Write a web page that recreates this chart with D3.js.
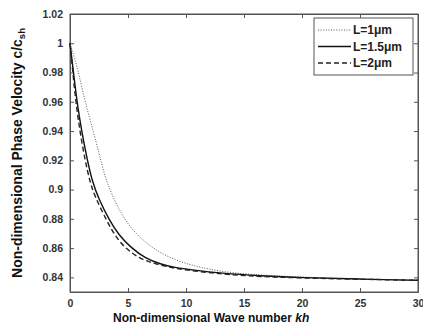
<!DOCTYPE html>
<html>
<head>
<meta charset="utf-8">
<script src="https://cdn.jsdelivr.net/npm/d3@7"></script>
<style>
  body { margin: 0; background: #fff; }
  text { font-family: Arial, "Liberation Sans", sans-serif; }
</style>
</head>
<body>
<div id="chart"></div>
<script>
// series: wave number kh and phase velocity c/c_sh
var khL1 = [0, 0.4, 0.8, 1.3, 2.0, 2.5, 2.9, 3.5, 4.7, 6.0, 7.5, 9.0, 10.6, 12.0, 14.0, 16.0, 18.0, 22.0, 26.0, 30.0];
var cL1 = [1.0, 0.99, 0.978, 0.96, 0.94, 0.925, 0.912, 0.898, 0.879, 0.867, 0.858, 0.852, 0.848, 0.8455, 0.843, 0.8418, 0.841, 0.8395, 0.8387, 0.838];

var khL15 = [0, 0.3, 0.6, 1.0, 1.5, 1.9, 2.5, 3.4, 4.2, 5.3, 6.5, 7.8, 9.0, 10.6, 13.0, 16.4, 20.0, 25.0, 30.0];
var cL15 = [1.0, 0.98, 0.96, 0.94, 0.92, 0.906, 0.893, 0.879, 0.869, 0.86, 0.853, 0.849, 0.8468, 0.845, 0.8428, 0.841, 0.8398, 0.8388, 0.838];

var khL2 = [0, 0.25, 0.5, 0.85, 1.3, 1.7, 2.1, 3.2, 4.0, 4.9, 6.0, 7.0, 8.5, 10.0, 12.5, 15.0, 20.0, 25.0, 30.0];
var cL2 = [1.0, 0.98, 0.96, 0.94, 0.92, 0.906, 0.896, 0.878, 0.867, 0.859, 0.853, 0.85, 0.847, 0.845, 0.8428, 0.841, 0.8395, 0.8387, 0.838];

var seriesNames = ["L=1\u03bcm", "L=1.5\u03bcm", "L=2\u03bcm"];
var xTicks = [0, 5, 10, 15, 20, 25, 30];
var yTicks = [0.84, 0.86, 0.88, 0.9, 0.92, 0.94, 0.96, 0.98, 1, 1.02];

var series = [
    {name: seriesNames[0], kh: khL1, c: cL1, dash: "1,1.6", width: 0.9, color: "#444"},
    {name: seriesNames[1], kh: khL15, c: cL15, dash: null, width: 1.4, color: "#111"},
    {name: seriesNames[2], kh: khL2, c: cL2, dash: "5,3", width: 1.4, color: "#222"}
];

var totalW = 423, totalH = 325;
var margin = {top: 14, right: 5, bottom: 33, left: 70},
    width = totalW - margin.left - margin.right,
    height = totalH - margin.top - margin.bottom;

var svgRoot = d3.select("#chart")
    .append("svg")
    .attr("width", totalW)
    .attr("height", totalH);

var svg = svgRoot.append("g")
    .attr("transform", "translate(" + margin.left + "," + margin.top + ")");

var x = d3.scaleLinear().domain([0, 30]).range([0, width]);
var y = d3.scaleLinear().domain([0.83, 1.02]).range([height, 0]);

var axisColor = "#555";

// bottom axis, ticks pointing inward
svg.append("g")
    .attr("transform", "translate(0," + height + ")")
    .call(d3.axisBottom(x).tickValues(xTicks).tickSize(-4).tickSizeOuter(0).tickPadding(8).tickFormat(d3.format("d")));

// left axis
svg.append("g")
    .call(d3.axisLeft(y).tickValues(yTicks).tickSize(-4).tickSizeOuter(0).tickPadding(7).tickFormat(function (d) { return String(+d.toFixed(2)); }));

// top and right ticks for the box
svg.append("g")
    .call(d3.axisTop(x).tickValues(xTicks).tickSize(-4).tickSizeOuter(0).tickFormat(""));
svg.append("g")
    .attr("transform", "translate(" + width + ",0)")
    .call(d3.axisRight(y).tickValues(yTicks).tickSize(-4).tickSizeOuter(0).tickFormat(""));

svg.selectAll(".domain").attr("stroke", axisColor);
svg.selectAll(".tick line").attr("stroke", axisColor);
svg.selectAll(".tick text")
    .attr("fill", "#333")
    .style("font-size", "10.5px")
    .style("font-weight", "bold");

// frame
svg.append("rect")
    .attr("width", width)
    .attr("height", height)
    .attr("fill", "none")
    .attr("stroke", axisColor)
    .attr("stroke-width", 1);

// curves
var line = d3.line()
    .x(function (d) { return x(d[0]); })
    .y(function (d) { return y(d[1]); })
    .curve(d3.curveBasis);

series.forEach(function (s) {
    var pts = s.kh.map(function (k, i) { return [k, s.c[i]]; });
    svg.append("path")
        .datum(pts)
        .attr("fill", "none")
        .attr("stroke", s.color)
        .attr("stroke-width", s.width)
        .attr("stroke-dasharray", s.dash)
        .attr("d", line);
});

// legend
var legend = svgRoot.append("g").attr("transform", "translate(314,18)");
legend.append("rect")
    .attr("width", 99)
    .attr("height", 57)
    .attr("fill", "#fff")
    .attr("stroke", axisColor);

series.forEach(function (s, i) {
    var ly = 12 + i * 16.5;
    legend.append("line")
        .attr("x1", 4).attr("x2", 37)
        .attr("y1", ly).attr("y2", ly)
        .attr("stroke", s.color)
        .attr("stroke-width", s.width)
        .attr("stroke-dasharray", s.dash);
    legend.append("text")
        .attr("x", 39)
        .attr("y", ly + 4)
        .attr("fill", "#222")
        .style("font-size", "12px")
        .style("font-weight", "bold")
        .text(s.name);
});

// x axis label
var xl = svgRoot.append("text")
    .attr("x", 113)
    .attr("y", 322)
    .attr("fill", "#111")
    .style("font-size", "12px")
    .style("font-weight", "bold");
xl.append("tspan").text("Non-dimensional Wave number ");
xl.append("tspan").style("font-style", "italic").text("kh");

// y axis label
var yl = svgRoot.append("text")
    .attr("transform", "translate(22," + (margin.top + height / 2) + ") rotate(-90)")
    .attr("text-anchor", "middle")
    .attr("fill", "#111")
    .style("font-size", "14px")
    .style("font-weight", "bold");
yl.append("tspan").text("Non-dimensional Phase Velocity  c/c");
yl.append("tspan").attr("dy", 3).style("font-size", "9.5px").text("sh");
</script>
</body>
</html>
